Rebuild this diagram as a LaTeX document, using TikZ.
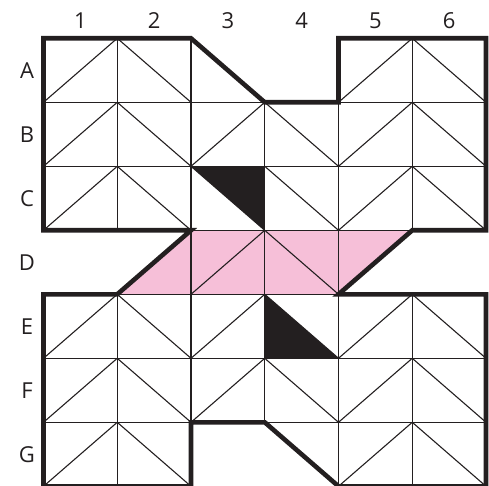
\documentclass[tikz,border=0pt]{standalone}
\usepackage{fontspec}
\setmainfont{Open Sans}
\definecolor{ink}{RGB}{35,31,32}
\definecolor{pinkfill}{RGB}{246,191,216}
\tikzset{
  thinline/.style={draw=ink, line width=1.1pt},
  outline/.style={draw=ink, line width=4.6pt, line join=miter},
  lab/.style={font=\fontsize{22}{26}\selectfont, text=ink, inner sep=0pt}
}
\begin{document}
\begin{tikzpicture}[x=73.75pt, y=-64pt]
\useasboundingbox (-43.5pt,38.3pt) rectangle (445.5pt,-447.7pt);
% fills
\fill[pinkfill] (2,3) -- (5,3) -- (4,4) -- (1,4) -- cycle;
\fill[ink] (2,2) -- (3,2) -- (3,3) -- cycle;
\fill[ink] (3,4) -- (3,5) -- (4,5) -- cycle;
% thin grid clipped to the region
\begin{scope}
\clip (0,0) -- (2,0) -- (3,1) -- (4,1) -- (4,0) -- (6,0) -- (6,3) -- (5,3) -- (4,4) -- (6,4) -- (6,7) -- (4,7) -- (3,6) -- (2,6) -- (2,7) -- (0,7) -- (0,4) -- (1,4) -- (2,3) -- (0,3) -- cycle;
\foreach \i in {1,...,5} \draw[thinline] (\i,0) -- (\i,7);
\foreach \j in {1,...,6} \draw[thinline] (0,\j) -- (6,\j);
\foreach \c in {0,...,5} {
  \foreach \r in {0,...,6} {
    \pgfmathtruncatemacro{\myparity}{mod(\c,2)}
    \pgfmathtruncatemacro{\myexc}{(\c==2)&&((\r==0)||(\r==2))}
    \ifnum\myexc=1 \pgfmathtruncatemacro{\myparity}{1}\fi
    \pgfmathtruncatemacro{\myexcb}{(\c==1)&&(\r==3)}
    \ifnum\myexcb=1 \pgfmathtruncatemacro{\myparity}{0}\fi
    \ifnum\myparity=0
      \draw[thinline] (\c,\r+1) -- (\c+1,\r);
    \else
      \draw[thinline] (\c,\r) -- (\c+1,\r+1);
    \fi
  }
}
\end{scope}
% outline
\draw[outline] (0,0) -- (2,0) -- (3,1) -- (4,1) -- (4,0) -- (6,0) -- (6,3) -- (5,3) -- (4,4) -- (6,4) -- (6,7) -- (4,7) -- (3,6) -- (2,6) -- (2,7) -- (0,7) -- (0,4) -- (1,4) -- (2,3) -- (0,3) -- cycle;
% labels
\foreach \n [count=\k from 0] in {1,2,3,4,5,6}
  \node[lab] (col\n) at (\k+0.5,-0.27) {\n};
\foreach \L [count=\k from 0] in {A,B,C,D,E,F,G}
  \node[lab] (row\L) at (-0.224,\k+0.5) {\L};
\end{tikzpicture}
\end{document}
